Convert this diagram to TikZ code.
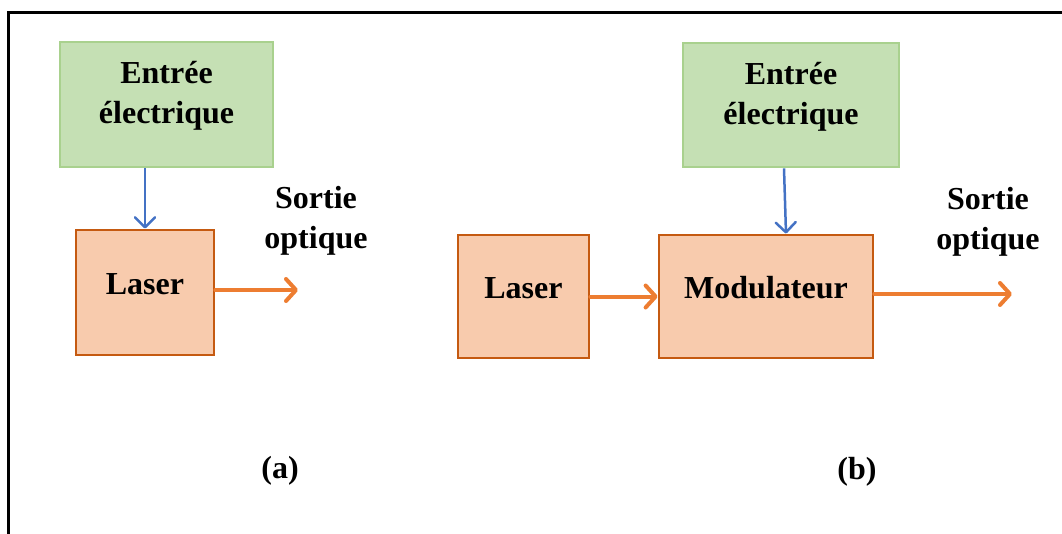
\documentclass[tikz,border=0pt]{standalone}
\usepackage{fontspec}
\setmainfont{Liberation Serif}
\usetikzlibrary{arrows.meta}
\definecolor{gfill}{HTML}{C5E0B4}
\definecolor{gdraw}{HTML}{A9D18E}
\definecolor{ofill}{HTML}{F8CBAD}
\definecolor{odraw}{HTML}{C55A11}
\definecolor{oarrow}{HTML}{ED7D31}
\definecolor{barrow}{HTML}{4472C4}
\tikzset{
  greenbox/.style={draw=gdraw, fill=gfill, line width=2.8pt, inner sep=0pt},
  orangebox/.style={draw=odraw, fill=ofill, line width=2.8pt, inner sep=0pt},
  lbl/.style={font=\fontsize{32}{40}\selectfont\bfseries, align=center, inner sep=0pt},
  oarr/.style={draw=oarrow, line width=4pt, line cap=round, -{Straight Barb[length=10pt, width=22pt, round]}},
  barr/.style={draw=barrow, line width=2.5pt, -{Straight Barb[length=10pt, width=20pt, round]}}
}
\begin{document}
\begin{tikzpicture}[x=1pt, y=-1pt]
\useasboundingbox (0,0) rectangle (1062,533);
\draw[line width=3pt] (8,560) -- (8,12) -- (1090,12);
% (a)
\node[greenbox, minimum width=213pt, minimum height=125pt] (ga) at (166.5,104.5) {};
\node[lbl] (gat) at (166.5,96) {Entrée\\électrique};
\node[orangebox, minimum width=138pt, minimum height=125pt] (la) at (145,292.5) {};
\node[lbl] (lat) at (145,284) {Laser};
\coordinate (oa) at (298,290);
\draw[barr] (la.north |- ga.south) -- (la.north);
\draw[oarr] (la.east |- oa) -- (oa);
\node[lbl] (sa) at (316,221) {Sortie\\optique};
\node[lbl] (capa) at (280,471) {(a)};
% (b)
\node[greenbox, minimum width=216pt, minimum height=124pt] (gb) at (791,105) {};
\node[lbl] (gbt) at (791,97) {Entrée\\électrique};
\node[orangebox, minimum width=131pt, minimum height=123pt] (lb) at (523.5,296.5) {};
\node[lbl] (lbt) at (523.5,288) {Laser};
\node[orangebox, minimum width=214pt, minimum height=123pt] (mb) at (766,296.5) {};
\node[lbl] (mbt) at (766,288) {Modulateur};
\coordinate (ob) at (1012,294);
\draw[barr] ([xshift=-7pt]gb.south) -- ([xshift=20pt]mb.north);
\draw[oarr] (lb.east) -- (mb.west);
\draw[oarr] (mb.east |- ob) -- (ob);
\node[lbl] (sb) at (988,222) {Sortie\\optique};
\node[lbl] (capb) at (857,472) {(b)};
\end{tikzpicture}
\end{document}
